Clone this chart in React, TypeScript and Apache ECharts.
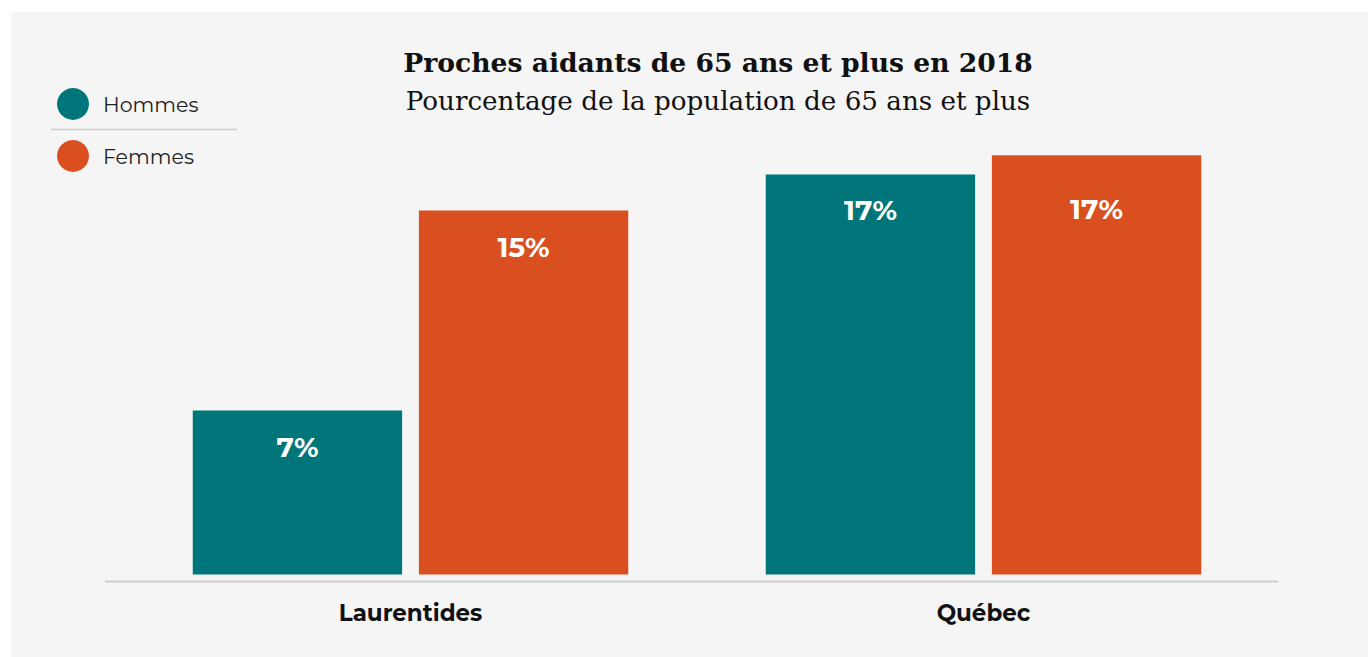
import React, { useEffect, useRef } from "react";
import * as echarts from "echarts";

const categories = ["Laurentides", "Québec"];
const seriesNames = ["Hommes", "Femmes"];
const hommes = [6.8, 16.6];
const femmes = [15.1, 17.4];
const labelText = { Laurentides: ["7%", "15%"], "Québec": ["17%", "17%"] } as Record<string, string[]>;

const TEAL = "#00767a";
const ORANGE = "#d94f20";
const LABEL_FONT = "Montserrat, 'Open Sans', 'Noto Sans', sans-serif";

export default function App() {
  const ref = useRef<HTMLDivElement>(null);
  useEffect(() => {
    document.body.style.margin = "0";
    const chart = echarts.init(ref.current!, undefined, { renderer: "svg" });
    const mkLabel = (idx: number) => ({
      show: true,
      position: "insideTop",
      distance: 22,
      color: "#fff",
      fontFamily: LABEL_FONT,
      fontWeight: "bold",
      fontSize: 28,
      formatter: (p: any) => labelText[categories[p.dataIndex]][idx],
    });
    chart.setOption({
      animation: false,
      backgroundColor: "#ffffff",
      graphic: [
        { type: "rect", z: -10, shape: { x: 11, y: 12, width: 1357, height: 645 }, style: { fill: "#f5f5f5" } },
        { type: "line", z: 10, shape: { x1: 51, y1: 129.5, x2: 237, y2: 129.5 }, style: { stroke: "#cccccc", lineWidth: 1.5 } },
        { type: "line", z: 10, shape: { x1: 105, y1: 581.5, x2: 1278, y2: 581.5 }, style: { stroke: "#cccccc", lineWidth: 2 } },
      ],
      title: [
        {
          text: "Proches aidants de 65 ans et plus en 2018",
          left: 713,
          top: 44,
          textAlign: "center",
          textStyle: { fontFamily: "'DejaVu Serif', serif", fontWeight: "bold", fontSize: 26.6, color: "#111" },
        },
        {
          text: "Pourcentage de la population de 65 ans et plus",
          left: 713,
          top: 83,
          textAlign: "center",
          textStyle: { fontFamily: "'DejaVu Serif', serif", fontWeight: "normal", fontSize: 26.2, color: "#111" },
        },
      ],
      legend: {
        orient: "vertical",
        left: 52,
        top: 83,
        icon: "circle",
        itemWidth: 32,
        itemHeight: 32,
        itemGap: 20,
        data: seriesNames,
        textStyle: { fontFamily: LABEL_FONT, fontSize: 20.5, color: "#222", padding: [0, 0, 0, 9] },
      },
      grid: { left: 124, right: 98, top: 92.5, bottom: 82.5 },
      xAxis: {
        type: "category",
        data: categories,
        axisLine: { show: false },
        axisTick: { show: false },
        axisLabel: { color: "#111", fontFamily: LABEL_FONT, fontWeight: "bold", fontSize: 23, margin: 27 },
      },
      yAxis: { type: "value", min: 0, max: 20, show: false, splitLine: { show: false } },
      series: [
        {
          name: seriesNames[0],
          type: "bar",
          data: hommes,
          itemStyle: { color: TEAL },
          barGap: "8%",
          barCategoryGap: "24%",
          label: mkLabel(0),
        },
        {
          name: seriesNames[1],
          type: "bar",
          data: [femmes[0], { value: femmes[1], label: { offset: [0, 18] } }],
          itemStyle: { color: ORANGE },
          label: mkLabel(1),
        },
      ],
    });
    return () => chart.dispose();
  }, []);
  return <div ref={ref} style={{ position: "absolute", left: 0, top: 0, width: 1368, height: 657 }} />;
}
